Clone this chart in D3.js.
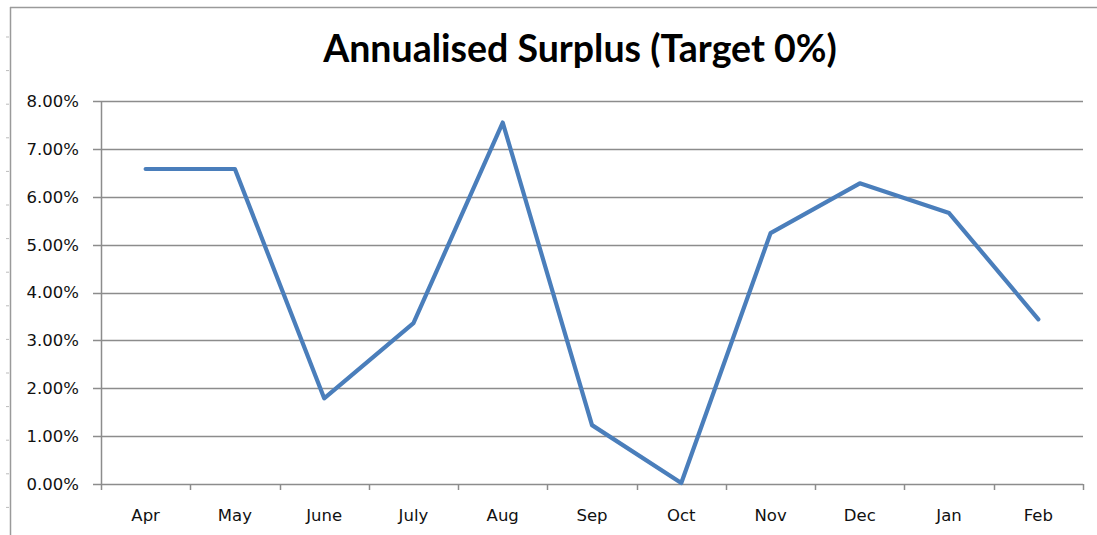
<!DOCTYPE html>
<html>
<head>
<meta charset="utf-8">
<script src="https://cdn.jsdelivr.net/npm/d3@7"></script>
<style>
  html, body { margin: 0; padding: 0; background: #fff; }
  svg { display: block; }
</style>
</head>
<body>
<svg id="chart" width="1097" height="535"></svg>
<script>
const title = "Annualised Surplus (Target 0%)";
const months = ["Apr", "May", "June", "July", "Aug", "Sep", "Oct", "Nov", "Dec", "Jan", "Feb"];
const surplus = [0.0658, 0.0658, 0.0179, 0.0336, 0.0755, 0.0123, 0.0002, 0.0524, 0.0628, 0.0566, 0.0344];
const yTicks = [0, 0.01, 0.02, 0.03, 0.04, 0.05, 0.06, 0.07, 0.08];

const svg = d3.select("#chart");
const W = 1097, H = 535;
const m = { left: 101, right: 1083, top: 101, bottom: 484 };
const titleFont = "Lato, 'Open Sans', sans-serif";
const labelFont = "'DejaVu Sans', Verdana, sans-serif";

// outer frame (spreadsheet border)
svg.append("line").attr("x1", 10).attr("x2", W).attr("y1", 7.5).attr("y2", 7.5)
  .attr("stroke", "#9a9a9a").attr("stroke-width", 1.5);
svg.append("line").attr("x1", 10.5).attr("x2", 10.5).attr("y1", 7).attr("y2", H)
  .attr("stroke", "#9a9a9a").attr("stroke-width", 1.5);
d3.range(37, H, 33.6).forEach(yy => {
  svg.append("line").attr("x1", 6).attr("x2", 9).attr("y1", yy).attr("y2", yy)
    .attr("stroke", "#bbb").attr("stroke-width", 1);
});

const x = d3.scaleBand().domain(months).range([m.left, m.right]).padding(0);
const y = d3.scaleLinear().domain([0, 0.08]).range([m.bottom, m.top]);

// gridlines
svg.append("g").selectAll("line").data(yTicks).join("line")
  .attr("x1", m.left - 8).attr("x2", m.right)
  .attr("y1", d => Math.round(y(d)) + 0.5).attr("y2", d => Math.round(y(d)) + 0.5)
  .attr("stroke", "#8c8c8c").attr("stroke-width", 1.5);

// y axis line
svg.append("line").attr("x1", m.left + 0.5).attr("x2", m.left + 0.5)
  .attr("y1", m.top).attr("y2", m.bottom + 6)
  .attr("stroke", "#8c8c8c").attr("stroke-width", 1.5);

// x axis ticks at category boundaries
const bounds = months.map(d => x(d)).concat([m.right]);
svg.append("g").selectAll("line").data(bounds.slice(1)).join("line")
  .attr("x1", d => Math.round(d) + 0.5).attr("x2", d => Math.round(d) + 0.5)
  .attr("y1", m.bottom).attr("y2", m.bottom + 6)
  .attr("stroke", "#8c8c8c").attr("stroke-width", 1.5);

// y labels
svg.append("g").selectAll("text").data(yTicks).join("text")
  .attr("x", 79).attr("y", d => y(d)).attr("dy", "0.36em")
  .attr("text-anchor", "end").attr("font-family", labelFont).attr("font-size", 16.5)
  .attr("fill", "#111").text(d3.format(".2%"));

// x labels
svg.append("g").selectAll("text").data(months).join("text")
  .attr("x", d => x(d) + x.bandwidth() / 2).attr("y", 521)
  .attr("text-anchor", "middle").attr("font-family", labelFont).attr("font-size", 16.5)
  .attr("fill", "#111").text(d => d);

// line
const line = d3.line().x((d, i) => x(months[i]) + x.bandwidth() / 2).y(d => y(d));
svg.append("path").datum(surplus).attr("d", line)
  .attr("fill", "none").attr("stroke", "#4a7ebb").attr("stroke-width", 4.2)
  .attr("stroke-linejoin", "round").attr("stroke-linecap", "round");

// title
svg.append("text").attr("x", 580).attr("y", 62).attr("text-anchor", "middle")
  .attr("font-family", titleFont).attr("font-weight", "bold").attr("font-size", 37.5)
  .attr("fill", "#000").text(title);
</script>
</body>
</html>
